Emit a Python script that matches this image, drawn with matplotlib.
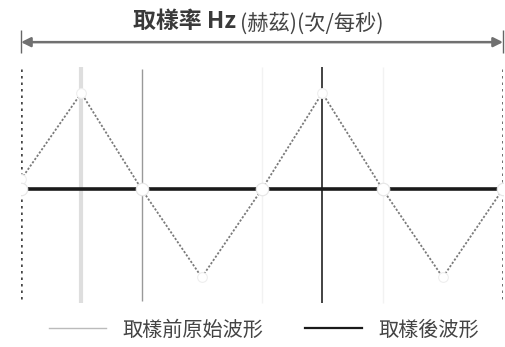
import matplotlib.pyplot as plt
from matplotlib.lines import Line2D

plt.rcParams['font.family'] = ['Noto Sans CJK TC', 'DejaVu Sans']

# original wave, in quarter periods
t_wave = [0, 1, 2, 3, 4, 5, 6, 7, 8]
y_wave = [0.1, 1.0, 0.0, -0.92, 0.0, 1.0, 0.0, -0.92, 0.0]

# samples taken (one every half period -> all at zero)
t_samp = [0, 2, 4, 6, 8]
y_samp = [0, 0, 0, 0, 0]

title_main = '取樣率 Hz'
title_unit = '(赫茲)(次/每秒)'
legend_labels = ['取樣前原始波形', '取樣後波形']

fig = plt.figure(figsize=(5.06, 3.47), dpi=100)
ax = fig.add_axes([0.0415, 0.1233, 0.9526, 0.6916])
ax.set_xlim(0, 8)
ax.set_ylim(-1.2, 1.3)
ax.axis('off')

# guide lines
ax.vlines(0, -1.15, 1.27, colors='#444444', linestyles=(0, (1, 1.6)), lw=1.8)
ax.vlines(8, -1.15, 1.27, colors='#444444', linestyles=(0, (1, 1.6)), lw=1.8)
ax.vlines(1, -1.19, 1.27, colors='#dedede', lw=3)
ax.vlines([4, 6], -1.19, 1.27, colors='#f2f2f2', lw=1)
ax.vlines(2, -1.17, 1.25, colors='#999999', lw=1)
ax.vlines(5, -1.19, 1.27, colors='#222222', lw=1.2)

wave, = ax.plot(t_wave, y_wave, color='#7a7a7a', ls=(0, (1.2, 1)), lw=1.3,
                marker='o', ms=7, mfc='white', mec='#eeeeee', mew=0.8, zorder=3)
samp, = ax.plot(t_samp, y_samp, color='#1a1a1a', lw=2.6, zorder=4)
ax.plot(t_samp, y_samp, ls='none', marker='o', ms=9, mfc='white',
        mec='#e6e6e6', mew=0.8, zorder=5)

# double arrow with end bars
ax.annotate('', xy=(0, 1.53), xytext=(8, 1.53), annotation_clip=False,
            arrowprops=dict(arrowstyle='<|-|>', color='#707070', lw=1.8,
                            mutation_scale=14, shrinkA=0, shrinkB=0))
ax.vlines([0, 8], 1.42, 1.66, colors='#666666', lw=1, clip_on=False)

ax.text(3.57, 1.74, title_main, ha='right', va='center', fontsize=16.5,
        fontweight='bold', color='#3a3a3a', clip_on=False)
ax.text(3.64, 1.72, title_unit, ha='left', va='center', fontsize=15.3,
        color='#444444', clip_on=False)

handles = [Line2D([], [], color='#bbbbbb', lw=1),
           Line2D([], [], color='#1a1a1a', lw=1.6)]
fig.legend(handles, legend_labels, loc='center', bbox_to_anchor=(0.522, 0.049),
           ncol=2, frameon=False, fontsize=14.5, handlelength=2.83,
           handletextpad=0.8, columnspacing=2.1, labelcolor='#444444')

fig.savefig('out.png', dpi=100)
